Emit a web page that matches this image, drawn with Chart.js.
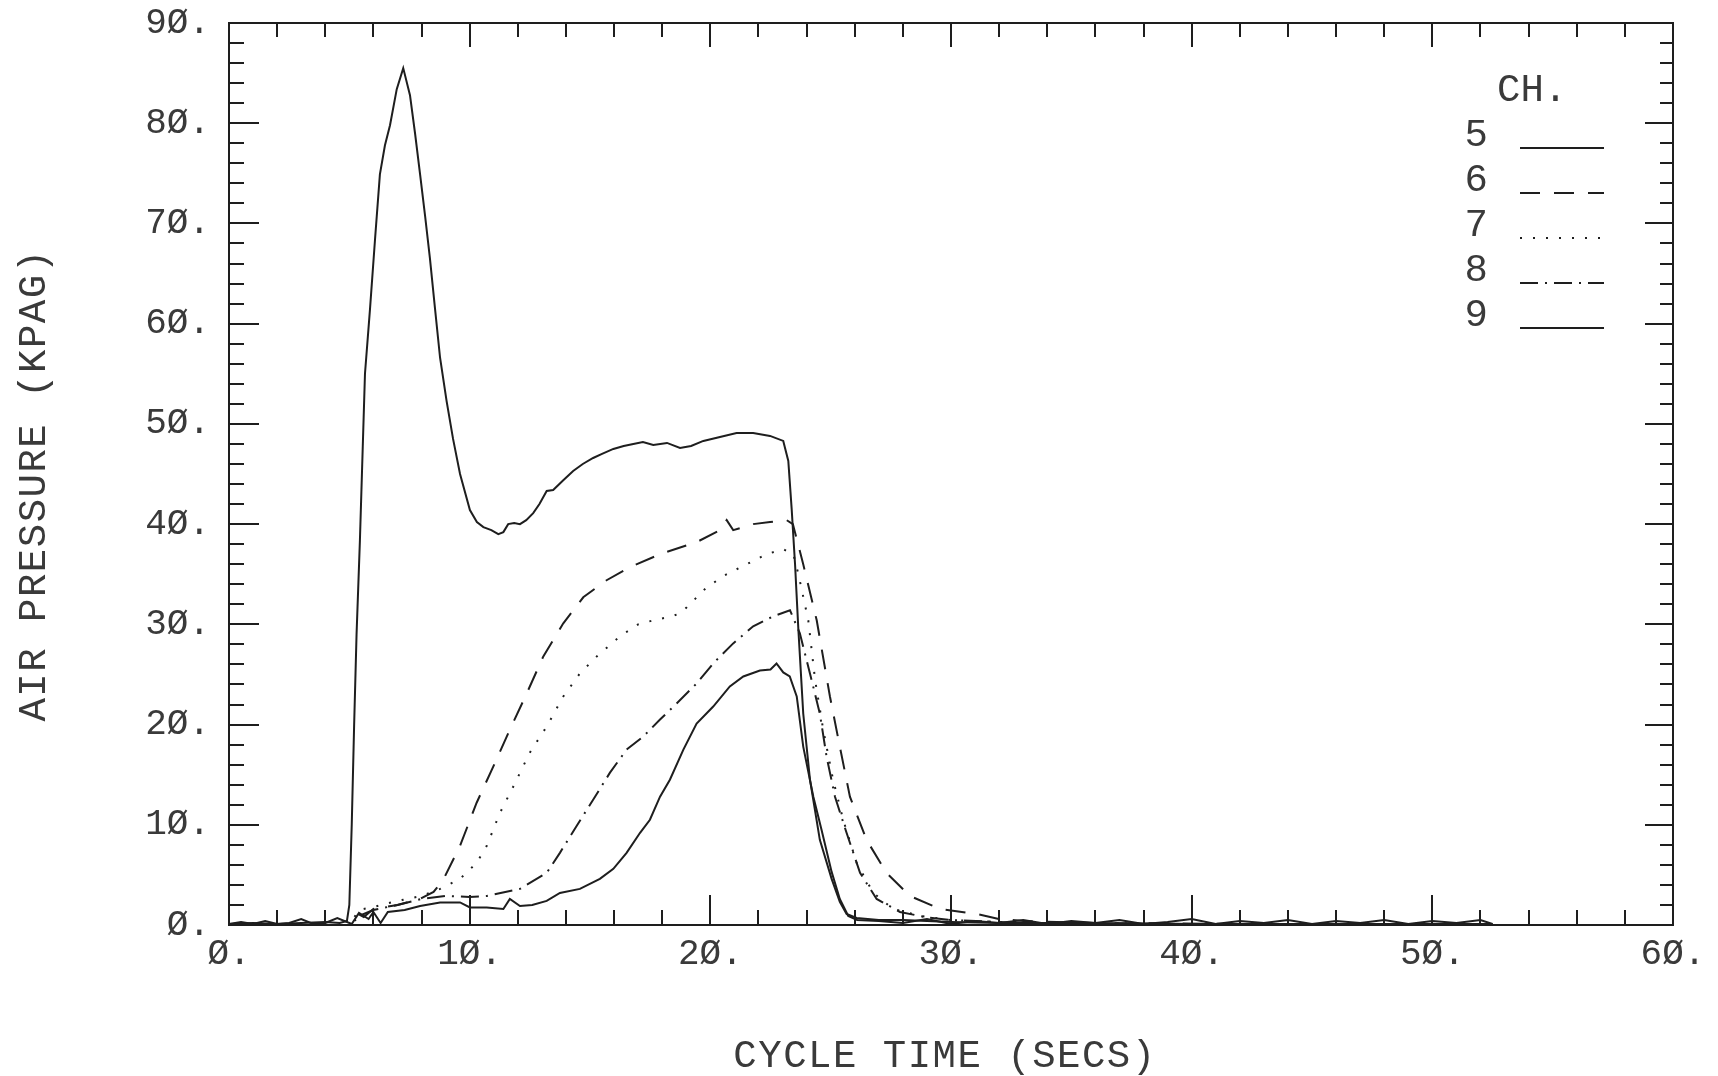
<!DOCTYPE html>
<html>
<head>
<meta charset="utf-8">
<title>Air pressure vs cycle time</title>
<script src="https://cdn.jsdelivr.net/npm/chart.js@4.4.1/dist/chart.umd.min.js"></script>
<style>
  html, body { margin: 0; padding: 0; background: #fff; }
  #wrap { width: 1718px; height: 1076px; }
</style>
</head>
<body>
<div id="wrap"><canvas id="grafico" width="1718" height="1076"></canvas></div>
<script>
// pressure traces, [time s, pressure kPa]
const ch5 = [[0,0.1],[1,0.2],[2,0.1],[3,0.2],[4,0.3],[4.6,0.2],[4.9,0.4],[5.0,2],[5.1,10],[5.2,20],[5.3,29],
  [5.44,38.4],[5.65,55],[5.86,61.5],[6.07,68.5],[6.27,74.9],[6.48,77.8],[6.69,79.8],[6.97,83.4],[7.24,85.5],
  [7.52,82.8],[7.73,79],[7.94,74.9],[8.15,70.7],[8.35,66.5],[8.56,61.5],[8.77,56.6],[9.04,52.3],[9.31,48.5],
  [9.6,45],[10.01,41.4],[10.3,40.2],[10.57,39.7],[10.9,39.4],[11.19,39.0],[11.4,39.2],[11.6,40.0],[11.85,40.1],
  [12.09,40.0],[12.35,40.4],[12.64,41.1],[12.9,42.0],[13.2,43.3],[13.47,43.4],[13.9,44.4],[14.3,45.3],[14.7,46.0],
  [15.13,46.6],[15.5,47.0],[15.97,47.5],[16.4,47.8],[16.8,48.0],[17.2,48.2],[17.63,47.9],[18.2,48.1],[18.74,47.6],
  [19.2,47.8],[19.71,48.3],[20.4,48.7],[21.09,49.1],[21.78,49.1],[22.48,48.8],[23.03,48.3],[23.24,46.3],[23.38,41.5],
  [23.52,36.0],[23.66,29.4],[23.86,21.1],[24.14,14.5],[24.55,8.5],[25.04,4.6],[25.38,2.3],[25.66,1.1],[26.08,0.7],
  [27,0.5],[28,0.5],[29,0.4],[30,0.3],[32,0.2],[35,0.2],[40,0.1],[45,0.1],[50,0.1],[52.5,0.1]];

const ch6 = [[0,0],[5.0,0],[5.3,1.2],[5.6,0.8],[6.0,1.6],[7.0,2.0],[7.94,2.6],[8.5,3.3],[8.9,4.5],[9.6,7.9],
  [10.29,12.2],[10.98,15.8],[11.67,19.5],[12.37,23.1],[13.06,26.8],[13.89,30.1],[14.72,32.7],[15.69,34.4],
  [16.66,35.7],[17.91,37.0],[19.43,38.2],[20.4,39.4],[20.68,40.4],[20.95,39.4],[21.78,40.0],[22.48,40.2],
  [23.17,40.4],[23.43,40.0],[23.86,36.0],[24.42,30.4],[24.97,22.8],[25.38,17.8],[25.8,12.8],[26.49,8.5],
  [27.32,5.2],[28.29,2.9],[29.54,1.6],[31.06,1.1],[32,0.6],[33,0.4],[36,0.2],[42,0.1],[52.5,0.1]];

const ch7 = [[0,0],[5.0,0],[5.4,1.5],[6.0,1.8],[7.0,2.4],[8.0,2.9],[8.77,3.6],[9.6,4.6],[10.29,6.2],[10.71,7.9],
  [11.26,11.2],[11.81,13.8],[12.5,17.2],[13.2,19.8],[13.89,22.8],[14.58,25.1],[15.28,26.8],[16.24,28.8],
  [17.0,30.0],[17.63,30.4],[18.4,30.8],[18.74,31.1],[19.02,31.7],[19.85,33.7],[20.68,35.0],[21.51,36.0],
  [22.34,37.0],[23.03,37.5],[23.45,37.0],[23.66,35.0],[24.07,30.4],[24.35,24.5],[24.69,19.5],[25.1,14.5],
  [25.52,10.5],[26.08,6.2],[26.77,3.2],[27.6,1.6],[28.71,0.9],[30,0.5],[33,0.2],[40,0.1],[52.5,0.1]];

const ch8 = [[0,0],[5.0,0],[5.5,1.0],[6.0,1.5],[7.0,2.0],[8.0,2.6],[9.0,2.9],[10.0,2.8],[10.71,2.9],[12.09,3.6],
  [13.2,5.2],[13.75,7.2],[14.45,9.9],[15.13,12.5],[15.83,15.2],[16.52,17.5],[17.21,18.8],[17.91,20.5],
  [18.6,22.1],[19.43,24.1],[20.12,26.1],[20.95,28.1],[21.78,29.8],[22.61,30.8],[23.31,31.4],[23.72,29.1],
  [24.14,25.1],[24.55,21.1],[24.83,16.8],[25.18,12.8],[25.66,9.2],[26.22,5.2],[26.91,2.6],[27.88,1.3],
  [28.99,0.76],[30,0.5],[33,0.2],[40,0.1],[52.5,0.1]];

const ch9 = [[0,0.1],[0.5,0.3],[1,0.1],[1.5,0.4],[2,0.1],[2.5,0.2],[3,0.6],[3.5,0.1],[4,0.2],[4.5,0.7],[5.1,0.1],
  [5.4,1.2],[5.8,0.6],[6.0,1.3],[6.3,0.2],[6.6,1.3],[7.3,1.5],[7.94,1.9],[8.77,2.25],[9.6,2.25],[10.01,1.75],
  [10.71,1.75],[11.4,1.6],[11.67,2.6],[12.09,1.9],[12.6,2.0],[13.2,2.4],[13.75,3.2],[14.58,3.6],[15.41,4.6],
  [15.97,5.6],[16.52,7.2],[17.08,9.2],[17.49,10.5],[17.91,12.8],[18.32,14.5],[18.88,17.5],[19.43,20.1],
  [20.12,21.8],[20.81,23.8],[21.37,24.8],[22.06,25.4],[22.5,25.5],[22.75,26.1],[23.03,25.2],[23.3,24.8],
  [23.59,22.8],[23.86,17.8],[24.28,12.8],[24.62,9.5],[25.04,5.3],[25.38,2.6],[25.73,0.9],[26.1,0.5],[27,0.4],
  [28,0.2],[29,0.6],[30,0.1],[31,0.4],[32,0.2],[33,0.5],[34,0.1],[35,0.4],[36,0.2],[37,0.5],[38,0.1],[39,0.3],
  [40,0.6],[41,0.1],[42,0.4],[43,0.2],[44,0.5],[45,0.1],[46,0.4],[47,0.2],[48,0.5],[49,0.1],[50,0.4],[51,0.2],
  [52,0.5],[52.5,0.1]];

const canales = ['5', '6', '7', '8', '9'];
const trazos = [ch5, ch6, ch7, ch8, ch9];
const guiones = [[], [20, 14], [2, 11], [18, 7, 2, 7], []];

const xTicks = [0, 10, 20, 30, 40, 50, 60];
const yTicks = [0, 10, 20, 30, 40, 50, 60, 70, 80, 90];
const legendTitle = 'CH.';
const xTitle = 'CYCLE TIME (SECS)';
const yTitle = 'AIR PRESSURE (KPAG)';

const INK = '#1e1e1e';
const TEXT = '#3a3a3a';
const FONT = 'Liberation Mono';

// plotter style label: slashed zeros and trailing point
function etiqueta(v) {
  return String(v).replace(/0/g, '\u00D8') + '.';
}

// frame with inward ticks on all four sides
const marco = {
  id: 'marco',
  afterDatasetsDraw(chart) {
    const { ctx, chartArea: a, scales: { x, y } } = chart;
    ctx.save();
    ctx.strokeStyle = INK;
    ctx.lineWidth = 2;
    ctx.strokeRect(a.left, a.top, a.right - a.left, a.bottom - a.top);
    ctx.beginPath();
    for (let t = 0; t <= 60; t += 2) {
      const px = Math.round(x.getPixelForValue(t));
      const major = t % 10 === 0;
      ctx.moveTo(px, a.bottom); ctx.lineTo(px, a.bottom - (major ? 30 : 15));
      ctx.moveTo(px, a.top); ctx.lineTo(px, a.top + (major ? 24 : 14));
    }
    for (let p = 0; p <= 90; p += 2) {
      const py = Math.round(y.getPixelForValue(p));
      const major = p % 10 === 0;
      ctx.moveTo(a.left, py); ctx.lineTo(a.left + (major ? 30 : 15), py);
      ctx.moveTo(a.right, py); ctx.lineTo(a.right - (major ? 28 : 13), py);
    }
    ctx.stroke();
    ctx.restore();
  }
};

// axis titles, spaced out like the pen plotter lettering
const titulos = {
  id: 'titulos',
  afterDraw(chart) {
    const { ctx, chartArea: a } = chart;
    ctx.save();
    ctx.fillStyle = TEXT;
    ctx.font = '39px "' + FONT + '"';
    ctx.letterSpacing = '1.5px';
    ctx.textAlign = 'center';
    ctx.textBaseline = 'middle';
    ctx.fillText(xTitle, (a.left + a.right) / 2 - 6, 1057);
    ctx.translate(35, (a.top + a.bottom) / 2 + 11);
    ctx.rotate(-Math.PI / 2);
    ctx.fillText(yTitle, 0, 0);
    ctx.restore();
  }
};

// channel key in the upper right corner
const leyenda = {
  id: 'leyenda',
  afterDraw(chart) {
    const { ctx } = chart;
    ctx.save();
    ctx.fillStyle = TEXT;
    ctx.strokeStyle = INK;
    ctx.lineWidth = 2;
    ctx.font = '39px "' + FONT + '"';
    ctx.textBaseline = 'middle';
    ctx.textAlign = 'left';
    ctx.fillText(legendTitle, 1497, 91);
    chart.data.datasets.forEach((ds, i) => {
      const cy = 136 + i * 45;
      ctx.textAlign = 'right';
      ctx.fillText(ds.label, 1488, cy);
      ctx.setLineDash(ds.borderDash || []);
      ctx.beginPath();
      ctx.moveTo(1520, cy + 12);
      ctx.lineTo(1604, cy + 12);
      ctx.stroke();
    });
    ctx.restore();
  }
};

Chart.defaults.font.family = FONT;
Chart.defaults.color = TEXT;

new Chart(document.getElementById('grafico'), {
  type: 'line',
  data: {
    datasets: canales.map((c, i) => ({
      label: c,
      data: trazos[i].map(([t, p]) => ({ x: t, y: p })),
      borderColor: INK,
      borderWidth: 2,
      borderDash: guiones[i],
      pointRadius: 0,
      tension: 0,
      fill: false
    }))
  },
  options: {
    responsive: false,
    animation: false,
    layout: { padding: { top: 23, right: 45, left: 0, bottom: 0 } },
    plugins: { legend: { display: false }, tooltip: { enabled: false } },
    scales: {
      x: {
        type: 'linear',
        min: 0,
        max: 60,
        afterFit: s => { s.height = 151; s.paddingLeft = 0; s.paddingRight = 0; },
        afterBuildTicks: s => { s.ticks = xTicks.map(v => ({ value: v })); },
        grid: { display: false },
        border: { display: false },
        ticks: { callback: etiqueta, font: { size: 36 }, padding: 0, maxRotation: 0, autoSkip: false }
      },
      y: {
        min: 0,
        max: 90,
        afterFit: s => { s.width = 229; s.paddingTop = 0; s.paddingBottom = 0; },
        afterBuildTicks: s => { s.ticks = yTicks.map(v => ({ value: v })); },
        grid: { display: false },
        border: { display: false },
        ticks: { callback: etiqueta, font: { size: 36 }, padding: 11 }
      }
    }
  },
  plugins: [marco, titulos, leyenda]
});
</script>
</body>
</html>
